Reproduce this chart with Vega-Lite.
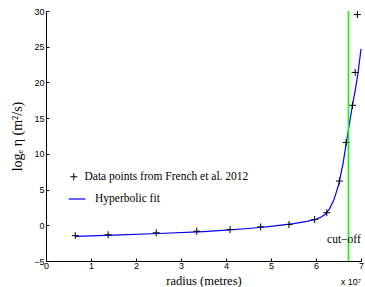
{
  "$schema": "https://vega.github.io/schema/vega-lite/v6.json",
  "width": 315,
  "height": 250,
  "autosize": {"type": "none"},
  "padding": {"left": 46, "top": 11, "right": 4, "bottom": 26},
  "background": "white",
  "datasets": {
    "pts": [
      {"r": 0.65, "eta": -1.45},
      {"r": 1.38, "eta": -1.33},
      {"r": 2.45, "eta": -1.05},
      {"r": 3.35, "eta": -0.83},
      {"r": 4.09, "eta": -0.6},
      {"r": 4.77, "eta": -0.23},
      {"r": 5.4, "eta": 0.1},
      {"r": 5.97, "eta": 0.8},
      {"r": 6.24, "eta": 1.76},
      {"r": 6.52, "eta": 6.2},
      {"r": 6.67, "eta": 11.6},
      {"r": 6.81, "eta": 16.8},
      {"r": 6.87, "eta": 21.4},
      {"r": 6.92, "eta": 29.5}
    ],
    "fit": [
      {"r": 0.65, "eta": -1.55},
      {"r": 1.5, "eta": -1.38},
      {"r": 2.5, "eta": -1.15},
      {"r": 3.5, "eta": -0.88},
      {"r": 4.0, "eta": -0.68},
      {"r": 4.5, "eta": -0.45},
      {"r": 5.0, "eta": -0.15},
      {"r": 5.5, "eta": 0.22},
      {"r": 5.8, "eta": 0.55},
      {"r": 6.0, "eta": 0.85},
      {"r": 6.1, "eta": 1.1},
      {"r": 6.2, "eta": 1.5},
      {"r": 6.3, "eta": 2.3},
      {"r": 6.4, "eta": 3.6},
      {"r": 6.5, "eta": 5.6},
      {"r": 6.6, "eta": 8.6},
      {"r": 6.67, "eta": 11.4},
      {"r": 6.75, "eta": 14.5},
      {"r": 6.81, "eta": 16.8},
      {"r": 6.88, "eta": 19.2},
      {"r": 6.94, "eta": 21.6},
      {"r": 7.0, "eta": 24.7}
    ],
    "cut": [
      {"r": 6.72, "eta": -5, "eta2": 30}
    ],
    "cutlabel": [
      {"r": 6.62, "eta": -2, "label": "cut−off"}
    ],
    "expo": [
      {"r": 7, "eta": -5, "label": "x 10⁷"}
    ]
  },
  "config": {
    "view": {"stroke": null},
    "axis": {
      "grid": false,
      "domainColor": "black",
      "tickColor": "black",
      "labelColor": "black",
      "labelFont": "Liberation Sans",
      "labelFontSize": 9,
      "labelOverlap": false,
      "labelFlush": false,
      "titleFont": "Liberation Serif",
      "titleFontWeight": "normal",
      "titleFontSize": 12,
      "titleColor": "black",
      "tickSize": -3
    }
  },
  "encoding": {
    "x": {
      "field": "r",
      "type": "quantitative",
      "scale": {"domain": [0, 7], "nice": false},
      "axis": {"values": [0, 1, 2, 3, 4, 5, 6, 7], "title": "radius (metres)", "titleFontSize": 12.5, "labelPadding": 3, "titlePadding": 4}
    },
    "y": {
      "field": "eta",
      "type": "quantitative",
      "scale": {"domain": [-5, 30], "nice": false},
      "axis": {"values": [-5, 0, 5, 10, 15, 20, 25, 30], "title": "logₑ η  (m²/s)", "titleFontSize": 14, "labelPadding": 5, "titlePadding": 9}
    }
  },
  "layer": [
    {
      "data": {"name": "fit"},
      "mark": {"type": "line", "strokeWidth": 1.2},
      "encoding": {
        "color": {
          "datum": "Hyperbolic fit",
          "scale": {"range": ["#0000ff"]},
          "legend": {
            "orient": "none", "legendX": 22, "legendY": 179, "title": null,
            "symbolType": "stroke", "symbolSize": 280, "symbolStrokeWidth": 1.2,
            "labelFont": "Liberation Serif", "labelFontSize": 11.5, "labelColor": "black",
            "labelOffset": 9, "labelLimit": 400, "padding": 0
          }
        }
      }
    },
    {
      "data": {"name": "pts"},
      "mark": {"type": "point", "filled": false, "color": "black", "strokeWidth": 1, "size": 49, "opacity": 1},
      "encoding": {
        "shape": {
          "datum": "Data points from French et al. 2012",
          "scale": {"range": ["M-1,0H1M0,-1V1"]},
          "legend": {
            "orient": "none", "legendX": 22, "legendY": 160, "title": null,
            "symbolSize": 49, "symbolStrokeColor": "black", "symbolStrokeWidth": 1,
            "labelFont": "Liberation Serif", "labelFontSize": 11.5, "labelColor": "black",
            "labelOffset": 5, "labelLimit": 400, "padding": 0
          }
        }
      }
    },
    {
      "data": {"name": "cut"},
      "mark": {"type": "rule", "color": "#00ff00", "strokeWidth": 1.5},
      "encoding": {
        "y2": {"field": "eta2"}
      }
    },
    {
      "data": {"name": "cutlabel"},
      "mark": {"type": "text", "font": "Liberation Serif", "fontSize": 11.5, "color": "black", "align": "center", "baseline": "middle"},
      "encoding": {
        "text": {"field": "label"}
      }
    },
    {
      "data": {"name": "expo"},
      "mark": {"type": "text", "font": "Liberation Sans", "fontSize": 9, "color": "black", "align": "right", "baseline": "alphabetic", "dy": 24},
      "encoding": {
        "text": {"field": "label"}
      }
    }
  ]
}
